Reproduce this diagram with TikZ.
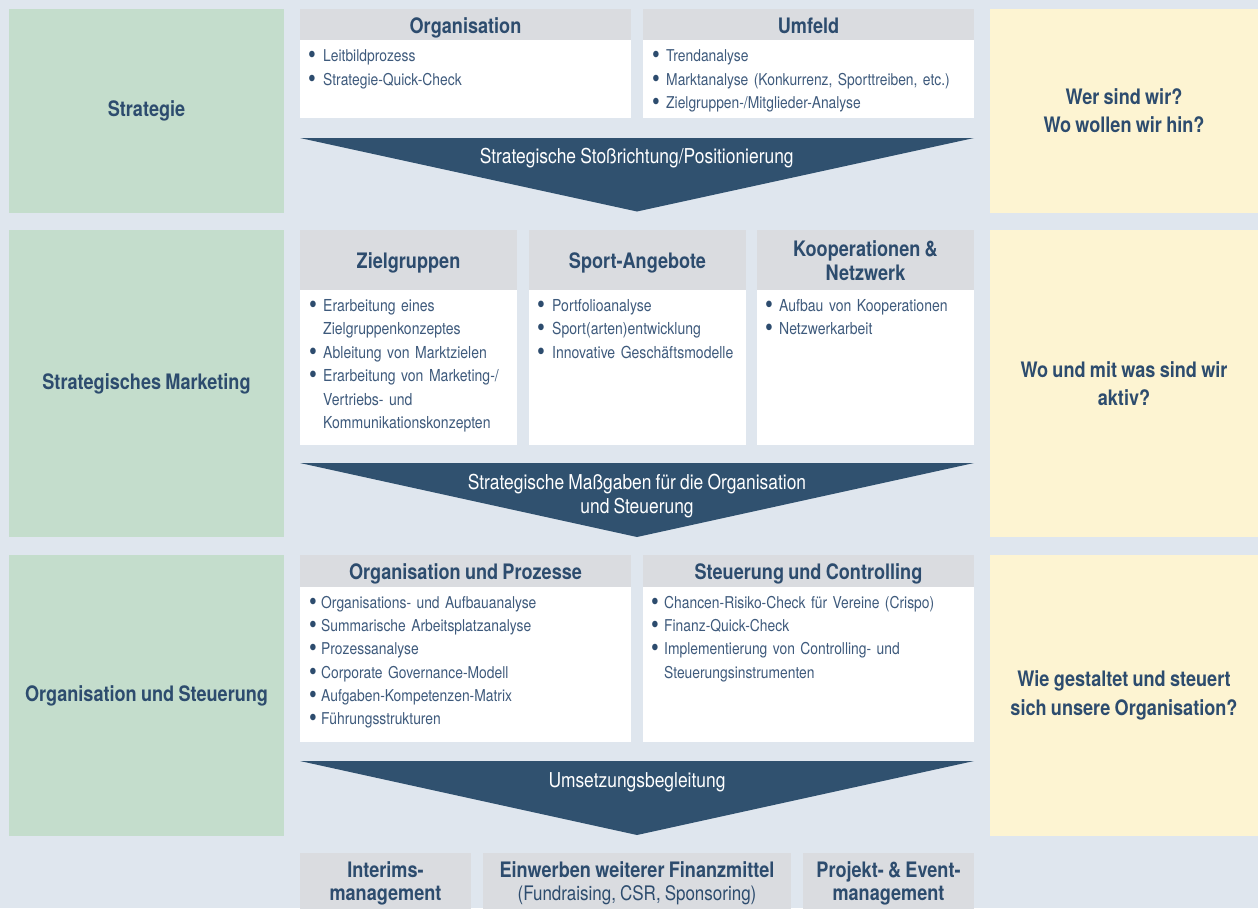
\documentclass[tikz,border=0pt]{standalone}
\usepackage{fontspec}
\usepackage{graphicx}
\setmainfont{TeX Gyre Heros}[FakeStretch=0.85,WordSpace=0.85]
\definecolor{cbg}{HTML}{DFE6EE}
\definecolor{cgreen}{HTML}{C4DDCC}
\definecolor{cyellow}{HTML}{FDF4D2}
\definecolor{cgray}{HTML}{DADCE0}
\definecolor{carrow}{HTML}{30516F}
\definecolor{ctitle}{HTML}{2D4C6E}
\definecolor{cbody}{HTML}{3E5A7C}
\newlength\bulind
\newcommand\bitem[1]{\hangindent=\bulind\hangafter=1\noindent\makebox[\bulind][l]{\rule{0pt}{14pt}\textcolor{ctitle}{\raisebox{-2pt}{\scalebox{1.6}{\textbullet}}}}#1\par}
\begin{document}
\begin{tikzpicture}[x=1pt,y=-1pt,
  box/.style={anchor=north west, inner sep=0pt, outer sep=0pt},
  greenbox/.style={box, fill=cgreen, text=ctitle, align=center, font=\bfseries\fontsize{21.3}{28.3}\selectfont},
  yellowbox/.style={box, fill=cyellow, text=ctitle, align=center, font=\bfseries\fontsize{21.3}{28.3}\selectfont},
  headbox/.style={box, fill=cgray},
  bodybox/.style={box, fill=white},
  bottombox/.style={box, fill=cgray, text=ctitle, align=center, font=\bfseries\fontsize{21.3}{23.3}\selectfont},
  head/.style={inner sep=0pt, text=ctitle, font=\bfseries\fontsize{21.3}{23.3}\selectfont},
  bodytext/.style={anchor=north west, inner sep=0pt, align=left, text=cbody, font=\fontsize{16.3}{23.3}\selectfont},
  arrowtext/.style={inner sep=0pt, text=white, font=\fontsize{20.5}{23.6}\selectfont},
  chevron/.style={fill=carrow}
]
\useasboundingbox (0,0) rectangle (1258,908);
\fill[cbg] (0,0) rectangle (1258,908);

% ---------- Row 1: Strategie ----------
\node[greenbox, minimum width=275pt, minimum height=204pt] (g1) at (9,9) {Strategie};
\node[yellowbox, minimum width=268pt, minimum height=204pt] (y1) at (990,9) {Wer sind wir?\\Wo wollen wir hin?};
\node[headbox, minimum width=331pt, minimum height=31pt] (h11) at (300,9) {};
\node[bodybox, minimum width=331pt, minimum height=78pt] (b11) at (300,40) {};
\node[headbox, minimum width=331pt, minimum height=31pt] (h12) at (643,9) {};
\node[bodybox, minimum width=331pt, minimum height=78pt] (b12) at (643,40) {};
\node[head, anchor=base] (t11) at (465.5,33.3) {Organisation};
\node[head, anchor=base] (t12) at (808.5,33.3) {Umfeld};
\node[bodytext, text width=318pt] (l11) at (308,47.7) {\setlength\bulind{15pt}%
  \bitem{Leitbildprozess}\bitem{Strategie-Quick-Check}};
\node[bodytext, text width=318pt] (l12) at (652,47.7) {\setlength\bulind{14pt}%
  \bitem{Trendanalyse}\bitem{Marktanalyse (Konkurrenz, Sporttreiben, etc.)}\bitem{Zielgruppen-/Mitglieder-Analyse}};
\fill[chevron] (300,138) -- (974,138) -- (637,211.5) -- cycle;
\node[arrowtext, anchor=base] (a1) at (636.7,163.3) {Strategische Stoßrichtung/Positionierung};

% ---------- Row 2: Strategisches Marketing ----------
\node[greenbox, minimum width=275pt, minimum height=307pt] (g2) at (9,230) {Strategisches Marketing};
\node[yellowbox, minimum width=268pt, minimum height=307pt] (y2) at (990,230) {Wo und mit was sind wir\\aktiv?};
\node[headbox, minimum width=217pt, minimum height=60pt] (h21) at (300,230) {};
\node[bodybox, minimum width=217pt, minimum height=155pt] (b21) at (300,290) {};
\node[headbox, minimum width=217pt, minimum height=60pt] (h22) at (529,230) {};
\node[bodybox, minimum width=217pt, minimum height=155pt] (b22) at (529,290) {};
\node[headbox, minimum width=217pt, minimum height=60pt] (h23) at (757,230) {};
\node[bodybox, minimum width=217pt, minimum height=155pt] (b23) at (757,290) {};
\node[head, anchor=base] (t21) at (408.5,268.3) {Zielgruppen};
\node[head, anchor=base] (t22) at (637.5,268.3) {Sport-Angebote};
\node[head, align=center] (t23) at (865.5,260.6) {Kooperationen \&\\Netzwerk};
\node[bodytext, text width=205pt, font=\fontsize{16.5}{23.5}\selectfont] (l21) at (309,297) {\setlength\bulind{14pt}%
  \bitem{Erarbeitung eines\newline Zielgruppenkonzeptes}\bitem{Ableitung von Marktzielen}%
  \bitem{Erarbeitung von Marketing-/\newline Vertriebs- und\newline Kommunikationskonzepten}};
\node[bodytext, text width=205pt, font=\fontsize{16.5}{23.5}\selectfont] (l22) at (537,297) {\setlength\bulind{15pt}%
  \bitem{Portfolioanalyse}\bitem{Sport(arten)entwicklung}\bitem{Innovative Geschäftsmodelle}};
\node[bodytext, text width=205pt, font=\fontsize{16.5}{23.5}\selectfont] (l23) at (765,297) {\setlength\bulind{14pt}%
  \bitem{Aufbau von Kooperationen}\bitem{Netzwerkarbeit}};
\fill[chevron] (300,463) -- (974,463) -- (637,537) -- cycle;
\node[arrowtext, align=center] (a2) at (637,496) {Strategische Maßgaben für die Organisation\\und Steuerung};

% ---------- Row 3: Organisation und Steuerung ----------
\node[greenbox, minimum width=275pt, minimum height=281pt] (g3) at (9,555) {Organisation und Steuerung};
\node[yellowbox, minimum width=268pt, minimum height=281pt] (y3) at (990,555) {Wie gestaltet und steuert\\sich unsere Organisation?};
\node[headbox, minimum width=331pt, minimum height=32pt] (h31) at (300,555) {};
\node[bodybox, minimum width=331pt, minimum height=155pt] (b31) at (300,587) {};
\node[headbox, minimum width=331pt, minimum height=32pt] (h32) at (643,555) {};
\node[bodybox, minimum width=331pt, minimum height=155pt] (b32) at (643,587) {};
\node[head, anchor=base] (t31) at (465.5,579) {Organisation und Prozesse};
\node[head, anchor=base] (t32) at (808.5,579) {Steuerung und Controlling};
\node[bodytext, text width=318pt] (l31) at (309,594) {\setlength\bulind{12pt}%
  \bitem{Organisations- und Aufbauanalyse}\bitem{Summarische Arbeitsplatzanalyse}%
  \bitem{Prozessanalyse}\bitem{Corporate Governance-Modell}%
  \bitem{Aufgaben-Kompetenzen-Matrix}\bitem{Führungsstrukturen}};
\node[bodytext, text width=318pt] (l32) at (651,594) {\setlength\bulind{13pt}%
  \bitem{Chancen-Risiko-Check für Vereine (Crispo)}\bitem{Finanz-Quick-Check}%
  \bitem{Implementierung von Controlling- und\newline Steuerungsinstrumenten}};
\fill[chevron] (300,761) -- (974,761) -- (637,835) -- cycle;
\node[arrowtext, anchor=base] (a3) at (637,787.3) {Umsetzungsbegleitung};

% ---------- Row 4 ----------
\node[bottombox, minimum width=171pt, minimum height=61pt] (k1) at (300,853) {Interims-\\management};
\node[bottombox, minimum width=308pt, minimum height=61pt] (k2) at (483,853) {Einwerben weiterer Finanzmittel\\{\mdseries\fontsize{20}{23.3}\selectfont (Fundraising, CSR, Sponsoring)}};
\node[bottombox, minimum width=171pt, minimum height=61pt] (k3) at (803,853) {Projekt- \& Event-\\management};
\end{tikzpicture}
\end{document}
